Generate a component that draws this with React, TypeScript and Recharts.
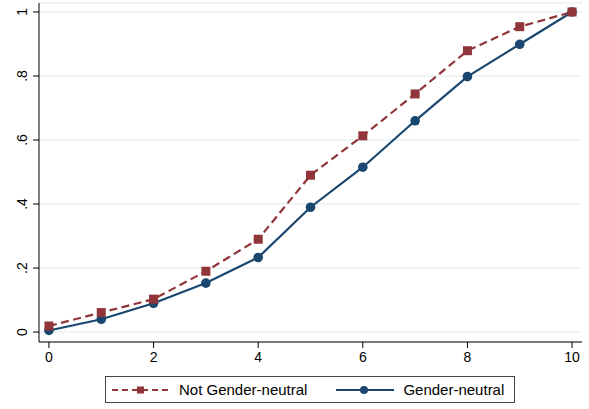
import React from 'react'
import { LineChart, Line, XAxis, YAxis, CartesianGrid, Legend } from 'recharts'

const steps = [0, 1, 2, 3, 4, 5, 6, 7, 8, 9, 10]
const notNeutral = [0.019, 0.061, 0.103, 0.19, 0.29, 0.49, 0.613, 0.744, 0.879, 0.954, 1]
const neutral = [0.005, 0.04, 0.09, 0.153, 0.233, 0.39, 0.515, 0.66, 0.798, 0.899, 1]
const xTicks = [0, 2, 4, 6, 8, 10]
const yTicks = [0, 0.2, 0.4, 0.6, 0.8, 1]
const yLabels = ['0', '.2', '.4', '.6', '.8', '1']

const RED = '#903539'
const BLUE = '#1a476f'
const FONT = '"Liberation Sans", Arial, Helvetica, sans-serif'

const data = steps.map((s, i) => ({ step: s, notNeutral: notNeutral[i], neutral: neutral[i] }))

function SquareDot(props: any) {
  const { cx, cy } = props
  if (cx == null || cy == null) return null
  return <rect x={cx - 4.5} y={cy - 4.5} width={9} height={9} fill={RED} />
}

function CircleDot(props: any) {
  const { cx, cy } = props
  if (cx == null || cy == null) return null
  return <circle cx={cx} cy={cy} r={4.8} fill={BLUE} />
}

function YTick(props: any) {
  const { y, payload } = props
  const idx = yTicks.indexOf(payload.value)
  const tx = 27
  return (
    <text x={tx} y={y} transform={`rotate(-90, ${tx}, ${y})`} textAnchor="middle" fontSize={14} fill="#000" fontFamily={FONT}>
      {idx >= 0 ? yLabels[idx] : ''}
    </text>
  )
}

function LegendBox() {
  const item = { display: 'flex', alignItems: 'center' } as const
  return (
    <div style={{ boxSizing: 'border-box', width: 410, height: 27, border: '1px solid #444', background: '#fff', display: 'flex', alignItems: 'center', fontFamily: FONT, fontSize: 15, color: '#000' }}>
      <div style={{ ...item, marginLeft: 6 }}>
        <svg width={58} height={12}>
          <line x1={0} y1={6} x2={58} y2={6} stroke={RED} strokeWidth={2} strokeDasharray="6 4" />
          <rect x={25} y={2.5} width={7} height={7} fill={RED} />
        </svg>
        <span style={{ marginLeft: 9 }}>Not Gender-neutral</span>
      </div>
      <div style={{ ...item, marginLeft: 29 }}>
        <svg width={58} height={12}>
          <line x1={0} y1={6} x2={58} y2={6} stroke={BLUE} strokeWidth={2} />
          <circle cx={28} cy={6} r={4} fill={BLUE} />
        </svg>
        <span style={{ marginLeft: 9 }}>Gender-neutral</span>
      </div>
    </div>
  )
}

export default function App() {
  return (
    <div style={{ position: 'absolute', left: 0, top: 0, width: 589, height: 409, background: '#fff' }}>
      <LineChart width={589} height={409} data={data} margin={{ top: 3, right: 7, left: 0, bottom: 37 }}>
        <CartesianGrid vertical={false} stroke="#eaf2f3" strokeWidth={1.5} />
        <XAxis
          dataKey="step"
          type="number"
          domain={[-0.19, 10.19]}
          ticks={xTicks}
          allowDataOverflow
          height={30}
          tickSize={6}
          tickMargin={4}
          stroke="#000"
          tick={{ fontSize: 14, fill: '#000', fontFamily: FONT }}
        />
        <YAxis
          type="number"
          domain={[-0.031, 1.028]}
          ticks={yTicks}
          allowDataOverflow
          width={39}
          tickSize={6}
          stroke="#000"
          tick={<YTick />}
        />
        <Legend
          layout="horizontal"
          verticalAlign="middle"
          align="center"
          wrapperStyle={{ top: 376, left: 105, width: 410 }}
          content={() => <LegendBox />}
        />
        <Line dataKey="neutral" name="Gender-neutral" stroke={BLUE} strokeWidth={2.2} dot={<CircleDot />} activeDot={false} isAnimationActive={false} />
        <Line dataKey="notNeutral" name="Not Gender-neutral" stroke={RED} strokeWidth={2.2} strokeDasharray="8 4.5" dot={<SquareDot />} activeDot={false} isAnimationActive={false} />
      </LineChart>
    </div>
  )
}
